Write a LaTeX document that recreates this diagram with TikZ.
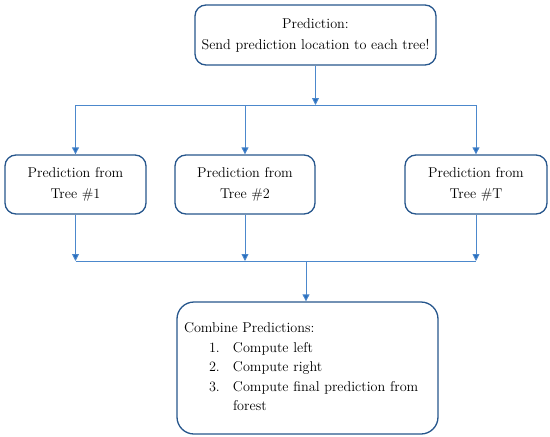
\documentclass[tikz,border=0pt]{standalone}
\usetikzlibrary{arrows.meta}
\definecolor{boxblue}{RGB}{38,86,140}
\definecolor{linkblue}{RGB}{76,136,204}
\definecolor{tipblue}{RGB}{40,110,190}
\tikzset{
  roundbox/.style={draw=boxblue, line width=1.3pt, rounded corners=11pt, align=center,
    inner sep=0pt, font=\fontsize{14.2}{21}\selectfont},
  link/.style={draw=linkblue, line width=0.9pt},
  linkarrow/.style={link, -{Triangle[length=7pt,width=7pt,fill=tipblue]}},
}
\begin{document}
\begin{tikzpicture}[x=1pt,y=-1pt]
\useasboundingbox (0,0) rectangle (550,437);
\node[roundbox, minimum width=241pt, minimum height=60pt] (top) at (315.5,35) {Prediction:\\Send prediction location to each tree!};
\node[roundbox, minimum width=141pt, minimum height=59pt] (t1) at (75.5,184.5) {Prediction from\\Tree \#1};
\node[roundbox, minimum width=140pt, minimum height=59pt] (t2) at (245,184.5) {Prediction from\\Tree \#2};
\node[roundbox, minimum width=142pt, minimum height=59pt] (tT) at (476,184.5) {Prediction from\\Tree \#T};
\node[roundbox, rounded corners=17pt, minimum width=261pt, minimum height=132pt, text width=247pt, align=left] (comb) at (307.5,368)
{\fontsize{14.2}{19.5}\selectfont
\begin{tabular}{@{}p{25pt}@{}p{24pt}@{}l@{}}
\multicolumn{3}{@{}l@{}}{Combine Predictions:}\\
& 1. & Compute left\\
& 2. & Compute right\\
& 3. & Compute final prediction from\\
& & forest
\end{tabular}};
% top splitter
\coordinate (sp) at (top.south |- 0,105);
\coordinate (sl) at (t1.north |- sp);
\coordinate (sm) at (t2.north |- sp);
\coordinate (sr) at (tT.north |- sp);
\draw[linkarrow] (top.south) -- (sp);
\draw[link] (sl) -- (sr);
\draw[linkarrow] (sl) -- (t1.north);
\draw[linkarrow] (sm) -- (t2.north);
\draw[linkarrow] (sr) -- (tT.north);
% bottom merger
\coordinate (ml) at (t1.south |- 0,261);
\coordinate (mm) at (t2.south |- ml);
\coordinate (mr) at (tT.south |- ml);
\coordinate (mc) at (306,261);
\draw[linkarrow] (t1.south) -- (ml);
\draw[linkarrow] (t2.south) -- (mm);
\draw[linkarrow] (tT.south) -- (mr);
\draw[link] (ml) -- (mr);
\draw[linkarrow] (mc) -- (mc |- comb.north);
\end{tikzpicture}
\end{document}
